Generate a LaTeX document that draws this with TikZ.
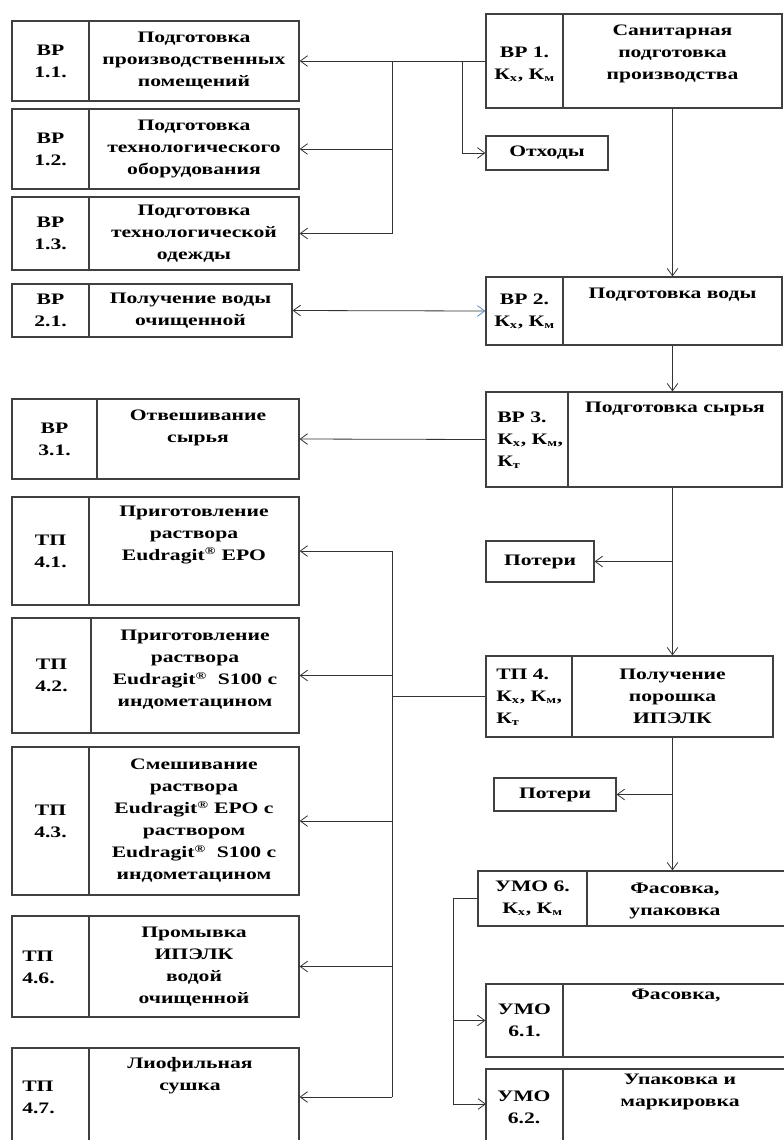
\documentclass[tikz,border=0pt]{standalone}
\usepackage{fontspec}
\setmainfont[FakeStretch=1.35]{Liberation Serif}
\usetikzlibrary{fit,arrows.meta}
\definecolor{arrblue}{RGB}{90,135,205}
\tikzset{
  cell/.style={draw=black!75, line width=0.9pt, inner sep=0pt},
  txt/.style={font=\fontsize{12}{16.5}\selectfont\bfseries, align=center, inner sep=0pt},
  ltxt/.style={txt, align=left, anchor=west},
  conn/.style={draw=black!80, line width=0.6pt},
  arr/.style={conn, -{Straight Barb[length=5.5pt,width=8pt]}},
}
\newcommand\mkbox[6]{%
  \node[cell, fit={(#2,#3)(#4,#6)}] (#1l) {};
  \node[cell, fit={(#4,#3)(#5,#6)}] (#1r) {};}
\newcommand\Kx{К\textsubscript{х}}
\newcommand\Km{К\textsubscript{м}}
\newcommand\Kt{К\textsubscript{т}}
\newcommand\reg{\textsuperscript{®}}
\begin{document}
\begin{tikzpicture}[x=0.75pt,y=-0.75pt]
\useasboundingbox (0,0) rectangle (784,1140);
\clip (0,0) rectangle (784,1140);
% ---------- left column ----------
\mkbox{b11}{12}{21}{89}{299}{101}
\node[txt] (b11lt) at (b11l) {ВР\\1.1.};
\node[txt] (b11rt) at (b11r) {Подготовка\\производственных\\помещений};
\mkbox{b12}{12}{109}{89}{299}{189}
\node[txt] (b12lt) at (b12l) {ВР\\1.2.};
\node[txt] (b12rt) at (b12r) {Подготовка\\технологического\\оборудования};
\mkbox{b13}{12}{197}{89}{299}{270}
\node[txt] (b13lt) at (b13l) {ВР\\1.3.};
\node[txt] (b13rt) at (b13r) {Подготовка\\технологической\\одежды};
\mkbox{b21}{12}{284}{89}{292}{337}
\node[txt] (b21lt) at (b21l) {ВР\\2.1.};
\node[txt] (b21rt) at (b21r) {Получение воды\\очищенной};
\mkbox{b31}{12}{399}{97}{299}{479}
\node[txt] (b31lt) at (b31l) {ВР\\3.1.};
\node[txt] (b31rt) at (198,428) {Отвешивание\\сырья};
\mkbox{t41}{12}{497}{89}{299}{605}
\node[txt] (t41lt) at (t41l) {ТП\\4.1.};
\node[txt] (t41rt) at (194,535) {Приготовление\\раствора\\Eudragit\reg{} EPO};
\mkbox{t42}{12}{618}{91}{299}{733}
\node[txt] (t42lt) at (t42l) {ТП\\4.2.};
\node[txt] (t42rt) at (195,670) {Приготовление\\раствора\\Eudragit\reg{}\ \ S100 с\\индометацином};
\mkbox{t43}{12}{747}{89}{299}{895}
\node[txt] (t43lt) at (t43l) {ТП\\4.3.};
\node[txt] (t43rt) at (t43r) {Смешивание\\раствора\\Eudragit\reg{} EPO с\\раствором\\Eudragit\reg{}\ \ S100 с\\индометацином};
\mkbox{t46}{12}{916}{89}{299}{1017}
\node[ltxt] (t46lt) at (22,967) {ТП\\4.6.};
\node[txt] (t46rt) at (t46r) {Промывка\\ИПЭЛК\\водой\\очищенной};
\mkbox{t47}{12}{1048}{89}{299}{1146}
\node[ltxt] (t47lt) at (22,1097) {ТП\\4.7.};
\node[txt] (t47rt) at (190,1076) {Лиофильная\\сушка};
% ---------- right column ----------
\mkbox{b1}{486}{14}{563}{782}{108}
\node[txt] (b1lt) at (524.5,64) {ВР 1.\\\Kx, \Km};
\node[txt] (b1rt) at (672.5,54) {Санитарная\\подготовка\\производства};
\node[cell, fit={(486,136)(608,170)}] (otx) {};
\node[txt] (otxt) at (otx) {Отходы};
\mkbox{b2}{486}{277}{563}{782}{345}
\node[txt] (b2lt) at (b2l) {ВР 2.\\\Kx, \Km};
\node[txt] (b2rt) at (672.5,295) {Подготовка воды};
\mkbox{b3}{486}{392}{568}{782}{487}
\node[ltxt] (b3lt) at (497,440) {ВР 3.\\\Kx, \Km,\\\Kt};
\node[txt] (b3rt) at (675,409) {Подготовка сырья};
\node[cell, fit={(486,541)(594,582)}] (pot1) {};
\node[txt] (pot1t) at (pot1) {Потери};
\mkbox{t4}{486}{656}{572}{773}{737}
\node[ltxt] (t4lt) at (496,697) {ТП 4.\\\Kx, \Km,\\\Kt};
\node[txt] (t4rt) at (t4r) {Получение\\порошка\\ИПЭЛК};
\node[cell, fit={(494,778)(616,811)}] (pot2) {};
\node[txt] (pot2t) at (pot2) {Потери};
\mkbox{u6}{478}{871}{587}{792}{926}
\node[txt] (u6lt) at (u6l) {УМО 6.\\\Kx, \Km};
\node[txt] (u6rt) at (675,901) {Фасовка,\\упаковка};
\mkbox{u61}{486}{984}{563}{792}{1057}
\node[txt] (u61lt) at (u61l) {УМО\\6.1.};
\node[txt] (u61rt) at (676,995) {Фасовка,};
\mkbox{u62}{486}{1069}{563}{792}{1160}
\node[txt] (u62lt) at (524,1107) {УМО\\6.2.};
\node[txt] (u62rt) at (680,1092) {Упаковка и\\маркировка};
% ---------- connectors ----------
\coordinate (trA) at (392,0);
\coordinate (jOt) at (462,0);
\draw[arr] (b1l.west) -- (b11r.east);
\draw[conn] (trA |- b11r.east) -- (trA |- b13r.east);
\draw[arr] (trA |- b12r.east) -- (b12r.east);
\draw[arr] (trA |- b13r.east) -- (b13r.east);
\draw[arr] (jOt |- b1l.west) |- (otx.west);
\draw[arr] (b1r.south) -- (b1r.south |- b2r.north);
\draw[conn, {Straight Barb[length=5.5pt,width=8pt]}-{Straight Barb[length=5.5pt,width=8pt,color=arrblue]}] (b21r.east) -- (b2l.west);
\draw[arr] (b2r.south) -- (b2r.south |- b3r.north);
\draw[arr] (b3l.west) -- (b31r.east);
\draw[arr] (b3r.south -| t4r.north) -- (t4r.north);
\draw[arr] (pot1.east -| t4r.north) -- (pot1.east);
% trunk to TP 4.x
\coordinate (trB) at (392,0);
\draw[conn] (t4l.west) -- (t4l.west -| trB);
\draw[conn] (trB |- t41r.east) -- (trB |- t47r.east);
\draw[arr] (trB |- t41r.east) -- (t41r.east);
\draw[arr] (trB |- t42r.east) -- (t42r.east);
\draw[arr] (trB |- t43r.east) -- (t43r.east);
\draw[arr] (trB |- t46r.east) -- (t46r.east);
\draw[arr] (trB |- t47r.east) -- (t47r.east);
% TP4 -> UMO6
\draw[arr] (t4r.south) -- (t4r.south |- u6r.north);
\draw[arr] (pot2.east -| t4r.south) -- (pot2.east);
% UMO6 branches
\coordinate (jU) at (453,0);
\coordinate (u62in) at (486,1104);
\draw[conn] (u6l.west) -- (u6l.west -| jU) -- (jU |- u62in);
\draw[arr] (jU |- u61l.west) -- (u61l.west);
\draw[arr] (jU |- u62in) -- (u62in);
\end{tikzpicture}
\end{document}
